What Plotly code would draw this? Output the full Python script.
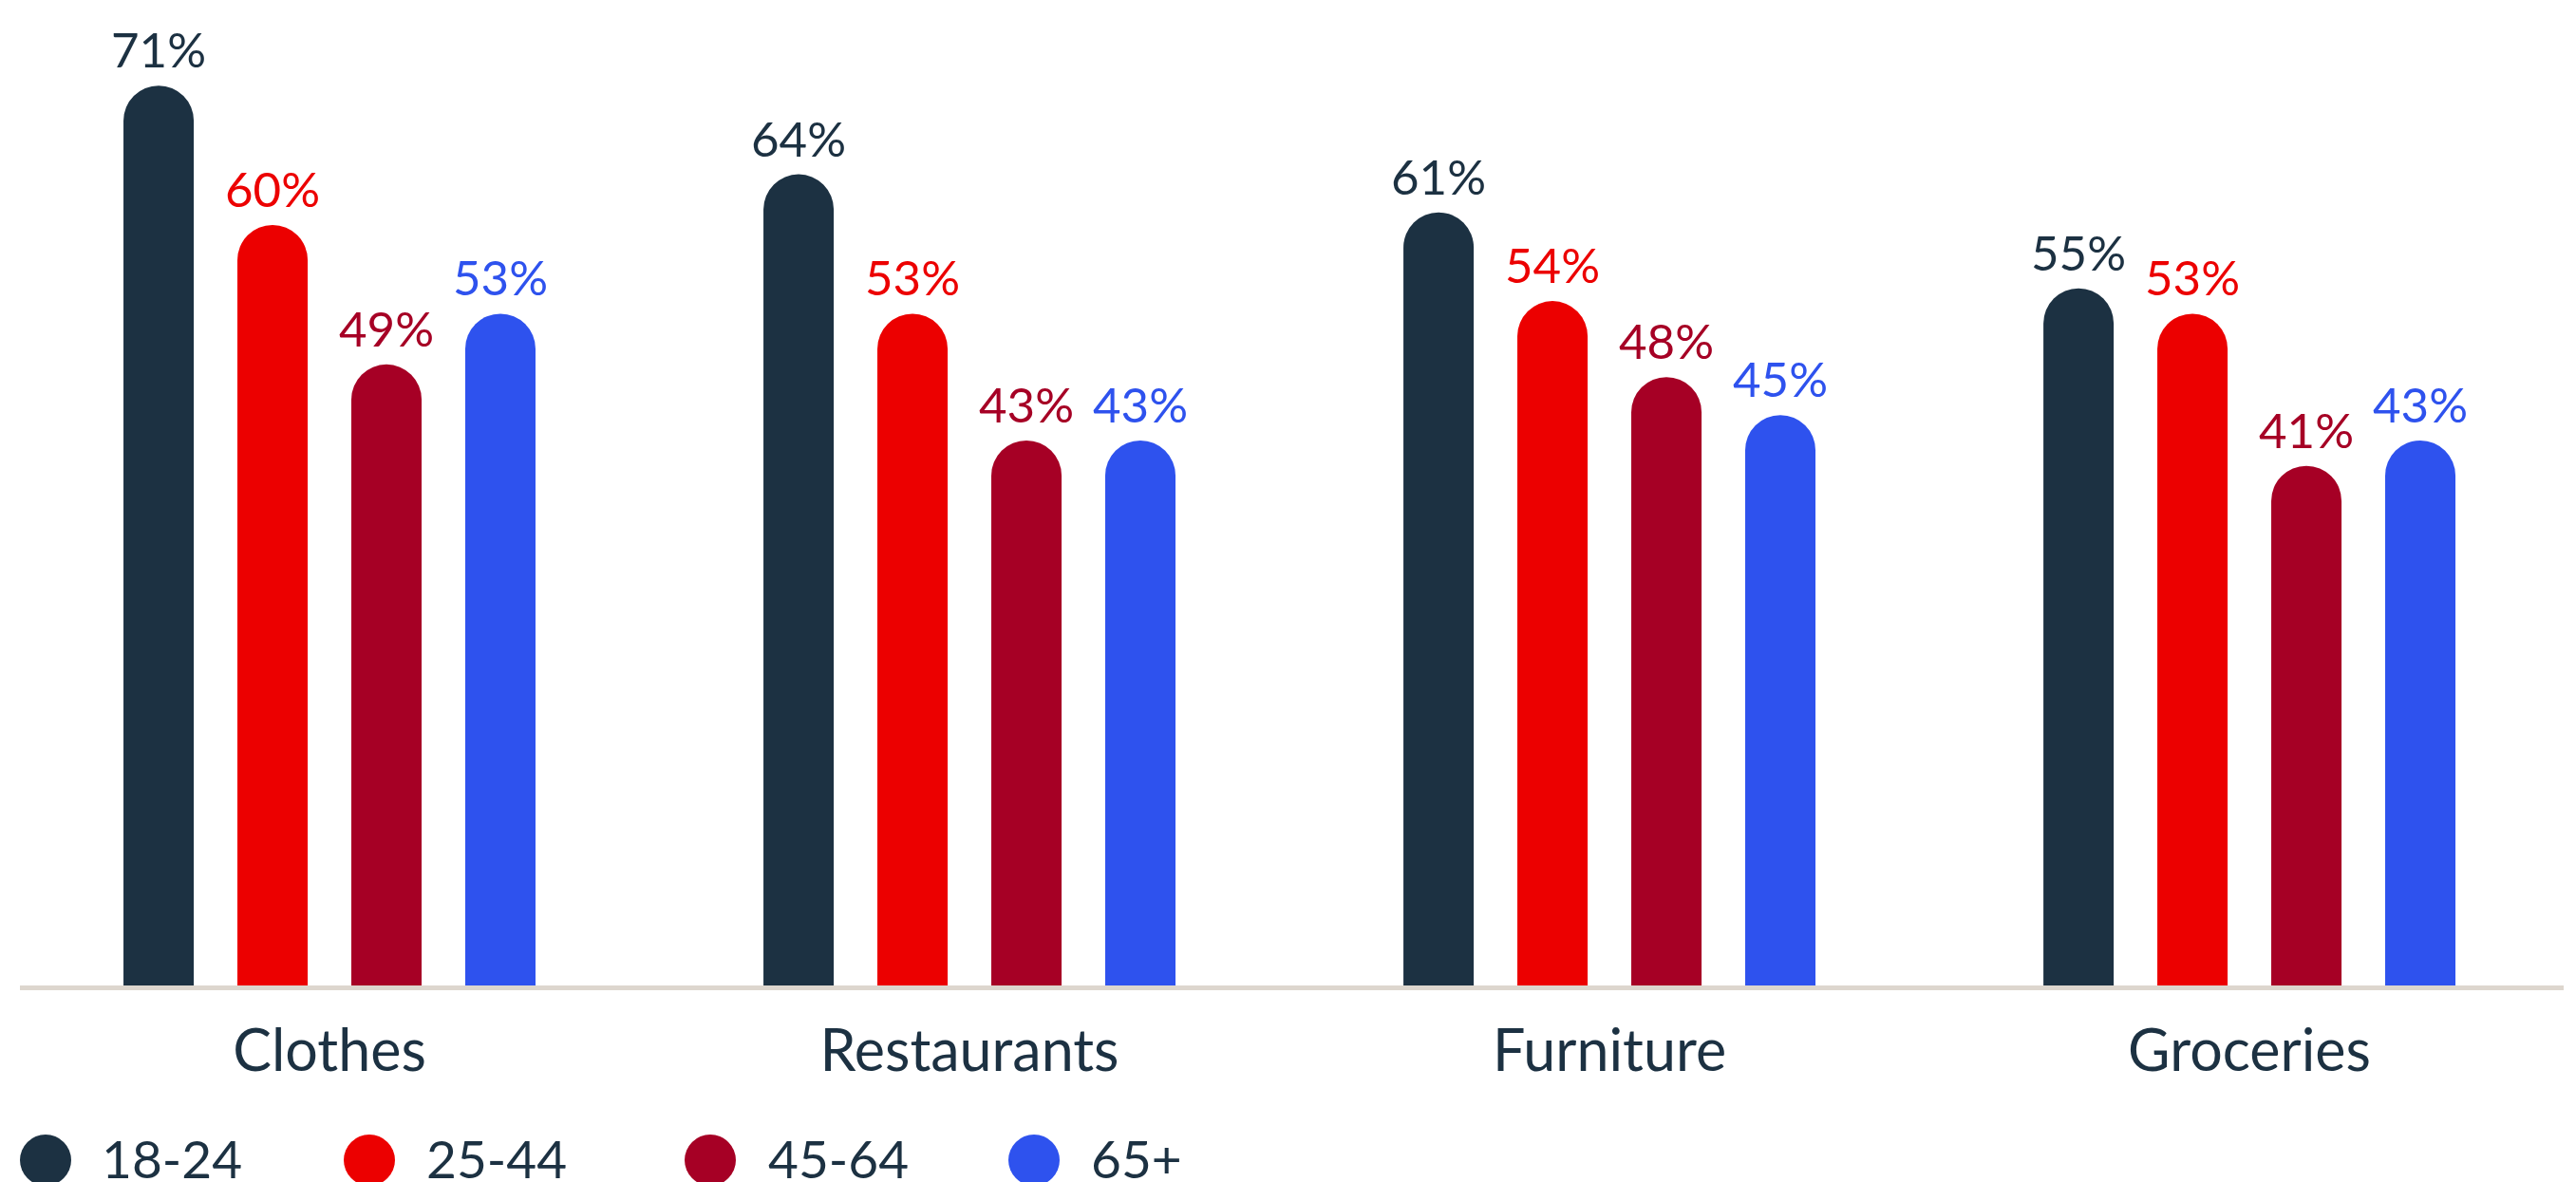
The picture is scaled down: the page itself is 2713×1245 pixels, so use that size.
import plotly.graph_objects as go

# Share of respondents per spending category, by age group (%)
categories = ["Clothes", "Restaurants", "Furniture", "Groceries"]
age_groups = ["18-24", "25-44", "45-64", "65+"]
share_18_24 = [71, 64, 61, 55]
share_25_44 = [60, 53, 54, 53]
share_45_64 = [49, 43, 48, 41]
share_65_plus = [53, 43, 45, 43]

series = [share_18_24, share_25_44, share_45_64, share_65_plus]
colors = ["#1c3142", "#ec0000", "#a60025", "#2e52ee"]
TEXT_COLOR = "#1c3142"
FONT = "Lato"

W, H = 2713, 1245
ML, MR, MT, MB = 21, 13, 0, 207
PW, PH = W - ML - MR, H - MT - MB

BARGAP = 0.288
BARGROUPGAP = 0.383
slot = (1 - BARGAP) / len(series)

fig = go.Figure()
for name, vals, col in zip(age_groups, series, colors):
    fig.add_trace(go.Bar(
        x=categories, y=vals, name=name,
        marker=dict(color=col, line=dict(width=0), cornerradius="50%"),
        showlegend=False, hoverinfo="skip",
    ))

# value labels above each bar
annotations = []
for k, (vals, col) in enumerate(zip(series, colors)):
    offset = (k - (len(series) - 1) / 2) * slot
    for i, v in enumerate(vals):
        annotations.append(dict(
            x=i + offset, y=v, xref="x", yref="y",
            text=f"{v}%", showarrow=False,
            xanchor="center", yanchor="bottom", yshift=6,
            font=dict(family=FONT, size=51, color=col),
        ))

# legend row along the bottom edge
legend_dot_x = [48, 389, 748, 1089]
legend_text_x = [106, 448, 808, 1148]
legend_y = 1222
shapes = []
for name, col, dx, tx in zip(age_groups, colors, legend_dot_x, legend_text_x):
    xp = (dx - ML) / PW
    yp = (H - MB - legend_y) / PH
    shapes.append(dict(
        type="circle", xref="paper", yref="paper",
        xsizemode="pixel", ysizemode="pixel",
        xanchor=xp, yanchor=yp, x0=-27, x1=27, y0=-27, y1=27,
        fillcolor=col, line=dict(width=0), layer="above",
    ))
    annotations.append(dict(
        x=(tx - ML) / PW, y=yp, xref="paper", yref="paper",
        text=name, showarrow=False, xanchor="left", yanchor="middle",
        yshift=2, borderpad=0,
        font=dict(family=FONT, size=55, color=TEXT_COLOR),
    ))

fig.update_layout(
    width=W, height=H,
    margin=dict(l=ML, r=MR, t=MT, b=MB, autoexpand=False),
    paper_bgcolor="white", plot_bgcolor="white",
    barmode="group", bargap=BARGAP, bargroupgap=BARGROUPGAP,
    font=dict(family=FONT, color=TEXT_COLOR),
    xaxis=dict(
        range=[-0.4837, 3.491], showgrid=False, zeroline=False,
        showline=True, linecolor="#ddd6ce", linewidth=5,
        ticks="", tickfont=dict(family=FONT, size=61, color=TEXT_COLOR),
        ticklabelstandoff=12,
    ),
    yaxis=dict(range=[0, PH / 13.35], visible=False, fixedrange=True),
    annotations=annotations,
    shapes=shapes,
)

fig.write_html("out.html")
